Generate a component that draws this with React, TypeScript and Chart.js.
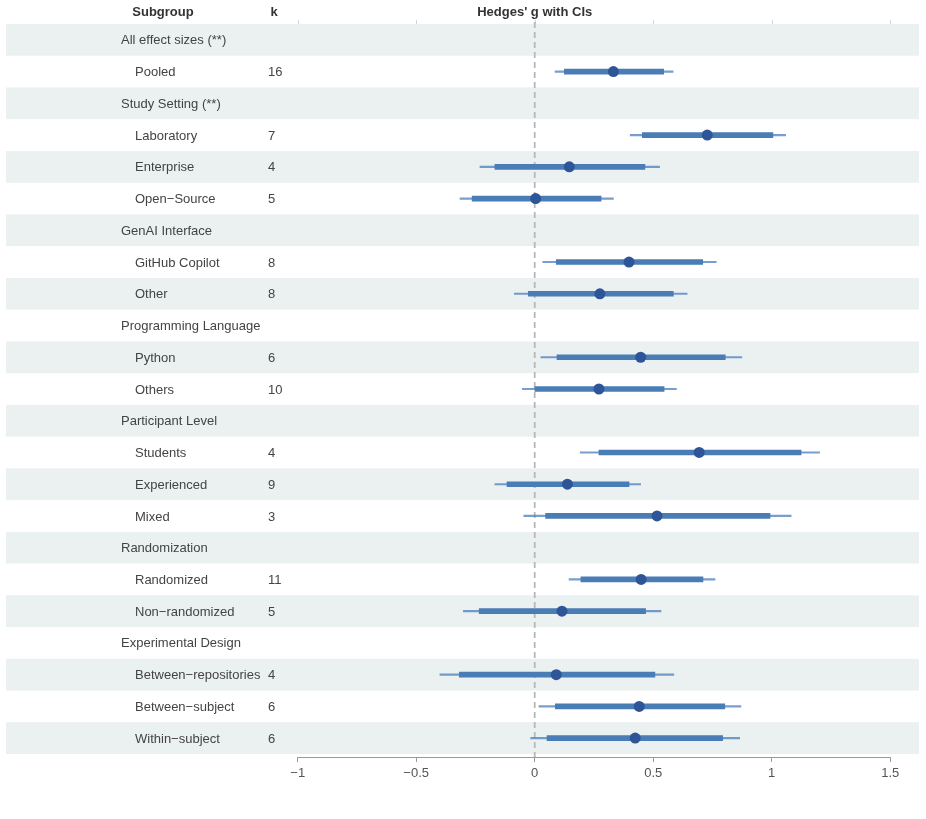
import React, { useEffect, useRef } from "react";
import { Chart, registerables } from "chart.js";

Chart.register(...registerables);

const rowLabels = [
  "All effect sizes (**)", "Pooled",
  "Study Setting (**)", "Laboratory", "Enterprise", "Open−Source",
  "GenAI Interface", "GitHub Copilot", "Other",
  "Programming Language", "Python", "Others",
  "Participant Level", "Students", "Experienced", "Mixed",
  "Randomization", "Randomized", "Non−randomized",
  "Experimental Design", "Between−repositories", "Between−subject", "Within−subject",
];
const isGroupHeader = [
  true, false,
  true, false, false, false,
  true, false, false,
  true, false, false,
  true, false, false, false,
  true, false, false,
  true, false, false, false,
];
const kValues = [null, 16, null, 7, 4, 5, null, 8, 8, null, 6, 10, null, 4, 9, 3, null, 11, 5, null, 4, 6, 6];
const estimate = [null, 0.332, null, 0.728, 0.146, 0.004, null, 0.398, 0.275, null, 0.447, 0.271, null, 0.694, 0.138, 0.516, null, 0.449, 0.115, null, 0.091, 0.441, 0.424];
const ciLow = [null, 0.125, null, 0.454, -0.168, -0.264, null, 0.091, -0.027, null, 0.094, 0.001, null, 0.271, -0.117, 0.046, null, 0.195, -0.234, null, -0.318, 0.087, 0.052];
const ciHigh = [null, 0.544, null, 1.005, 0.465, 0.28, null, 0.709, 0.585, null, 0.804, 0.546, null, 1.124, 0.398, 0.993, null, 0.71, 0.468, null, 0.507, 0.802, 0.793];
const piLow = [null, 0.086, null, 0.403, -0.231, -0.315, null, 0.034, -0.086, null, 0.026, -0.052, null, 0.192, -0.168, -0.046, null, 0.145, -0.301, null, -0.4, 0.018, -0.017];
const piHigh = [null, 0.584, null, 1.059, 0.527, 0.332, null, 0.766, 0.643, null, 0.874, 0.598, null, 1.202, 0.447, 1.082, null, 0.761, 0.533, null, 0.587, 0.87, 0.865];
const xMin = -1;
const xMax = 1.5;
const xStep = 0.5;

const FONT = '"Liberation Sans", Arial, Helvetica, sans-serif';

const forestPlugin = {
  id: "forestDecor",
  beforeDatasetsDraw(chart: any) {
    const { ctx, scales } = chart;
    const y = scales.y;
    const x = scales.x;
    const n = rowLabels.length;
    const rowH = Math.abs(y.getPixelForValue(1) - y.getPixelForValue(0));
    ctx.save();
    ctx.fillStyle = "#ebf0f0";
    for (let i = 0; i < n; i += 2) {
      const c = y.getPixelForValue(i);
      ctx.fillRect(6, c - rowH / 2, 913, rowH);
    }
    const top = y.getPixelForValue(0) - rowH / 2;
    ctx.strokeStyle = "#d4d4d4";
    ctx.lineWidth = 1;
    for (const t of x.ticks) {
      const px = Math.round(x.getPixelForValue(t.value)) + 0.5;
      ctx.beginPath();
      ctx.moveTo(px, top - 4);
      ctx.lineTo(px, top);
      ctx.stroke();
    }
    const z = x.getPixelForValue(0);
    ctx.strokeStyle = "#b8b8b8";
    ctx.lineWidth = 1.8;
    ctx.setLineDash([6, 4]);
    ctx.beginPath();
    ctx.moveTo(z, top - 2);
    ctx.lineTo(z, chart.chartArea.bottom);
    ctx.stroke();
    ctx.setLineDash([]);
    ctx.restore();
  },
  afterDraw(chart: any) {
    const { ctx, scales } = chart;
    const y = scales.y;
    const x = scales.x;
    ctx.save();
    ctx.textBaseline = "middle";
    ctx.fillStyle = "#333";
    ctx.font = `bold 13px ${FONT}`;
    ctx.textAlign = "center";
    ctx.fillText("Subgroup", 163, 12);
    ctx.fillText("k", 274, 12);
    ctx.fillText("Hedges' g with CIs", x.getPixelForValue(0), 12);
    ctx.font = `13px ${FONT}`;
    ctx.fillStyle = "#444";
    ctx.textAlign = "left";
    rowLabels.forEach((lab, i) => {
      const c = y.getPixelForValue(i) + 1;
      ctx.fillText(lab, isGroupHeader[i] ? 121 : 135, c);
      const k = kValues[i];
      if (k !== null) ctx.fillText(String(k), 268, c);
    });
    ctx.restore();
  },
};

export default function App() {
  const ref = useRef<HTMLCanvasElement | null>(null);
  useEffect(() => {
    if (!ref.current) return;
    const thin: any[] = [];
    const thick: any[] = [];
    const pts: any[] = [];
    rowLabels.forEach((_, i) => {
      if (piLow[i] !== null) thin.push({ x: [piLow[i], piHigh[i]], y: i });
      if (ciLow[i] !== null) thick.push({ x: [ciLow[i], ciHigh[i]], y: i });
      if (estimate[i] !== null) pts.push({ x: estimate[i], y: i });
    });
    const chart = new Chart(ref.current, {
      type: "bar",
      data: {
        datasets: [
          {
            type: "scatter",
            indexAxis: "y",
            data: pts,
            pointRadius: 5.5,
            pointBorderWidth: 0,
            pointBackgroundColor: "#2e5597",
            pointBorderColor: "#2e5597",
            order: 0,
          } as any,
          {
            data: thick,
            backgroundColor: "#4a7db5",
            barThickness: 5,
            grouped: false,
            borderWidth: 0,
            order: 1,
          } as any,
          {
            data: thin,
            backgroundColor: "rgba(74,125,187,0.75)",
            barThickness: 1.5,
            grouped: false,
            borderWidth: 0,
            order: 2,
          } as any,
        ],
      },
      options: {
        indexAxis: "y",
        responsive: false,
        animation: false,
        events: [],
        layout: { padding: { left: 297.7, right: 35.8, top: 24, bottom: 22 } },
        plugins: { legend: { display: false }, tooltip: { enabled: false } },
        scales: {
          y: {
            type: "linear",
            display: false,
            reverse: true,
            offset: false,
            grace: 0,
            min: -0.5,
            max: rowLabels.length - 0.5 + 0.095,
            afterFit: (s: any) => { s.width = 0; },
          },
          x: {
            type: "linear",
            min: xMin,
            max: xMax,
            offset: false,
            ticks: {
              stepSize: xStep,
              color: "#555",
              font: { family: FONT, size: 13 },
              padding: 4,
              callback: (v: any) => String(v).replace("-", "\u2212"),
            },
            grid: {
              drawOnChartArea: false,
              drawTicks: true,
              tickLength: 5,
              color: "#999",
            },
            border: { display: true, color: "#999", width: 1 },
            afterFit: (s: any) => { s.height = 40; },
          },
        },
      },
      plugins: [forestPlugin],
    } as any);
    return () => chart.destroy();
  }, []);
  return (
    <div style={{ position: "absolute", left: 0, top: 0, width: 926, height: 819, background: "#fff" }}>
      <canvas ref={ref} width={926} height={819} style={{ display: "block" }} />
    </div>
  );
}
